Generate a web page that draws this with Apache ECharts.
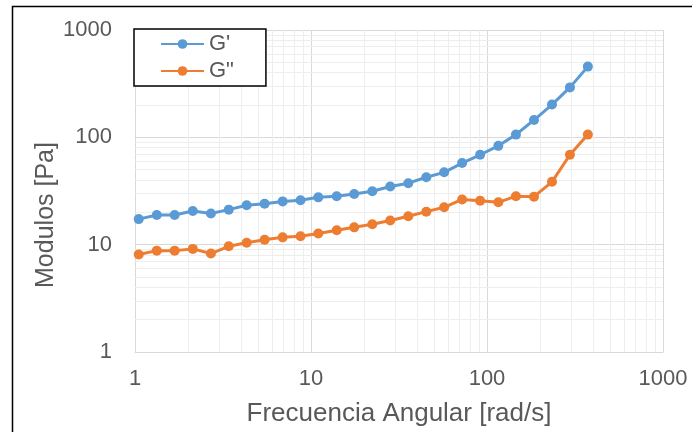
<!DOCTYPE html>
<html>
<head>
<meta charset="utf-8">
<script src="https://cdn.jsdelivr.net/npm/echarts@6/dist/echarts.min.js"></script>
<style>
  html, body { margin: 0; padding: 0; background: #fff; }
  #chart { width: 692px; height: 432px; }
</style>
</head>
<body>
<div id="chart"></div>
<script>
// Angular frequency sweep (rad/s)
var frequency = [1.05, 1.33, 1.68, 2.13, 2.70, 3.41, 4.31, 5.45, 6.90, 8.72,
                 11.0, 14.0, 17.6, 22.3, 28.2, 35.7, 45.2, 57.1, 72.2, 91.4,
                 116, 146, 185, 234, 296, 374];
// Storage modulus G' (Pa)
var storageModulus = [17.3, 18.9, 18.9, 20.6, 19.5, 21.2, 23.3, 24.1, 25.3, 25.9,
                      27.6, 28.3, 29.6, 31.5, 34.8, 37.4, 42.5, 47.2, 57.6, 68.8,
                      83.3, 106, 145, 202, 292, 456];
// Loss modulus G'' (Pa)
var lossModulus = [8.09, 8.80, 8.80, 9.13, 8.26, 9.66, 10.4, 11.1, 11.7, 12.0,
                   12.7, 13.6, 14.5, 15.5, 16.8, 18.4, 20.3, 22.3, 26.4, 25.7,
                   24.8, 28.3, 28.0, 38.5, 68.8, 106];
// Minor (intermediate) grid positions for both log axes
var minorSteps = [2, 3, 4, 5, 6, 7, 8, 9, 20, 30, 40, 50, 60, 70, 80, 90,
                  200, 300, 400, 500, 600, 700, 800, 900];
var seriesNames = ["G'", 'G"'];

var textColor = '#595959';
var labelFont = '"Liberation Sans", Arial, sans-serif';

function pairs(xs, ys) {
  return xs.map(function (x, i) { return [x, ys[i]]; });
}

var minorLines = minorSteps.map(function (v) { return { xAxis: v }; })
  .concat(minorSteps.map(function (v) { return { yAxis: v }; }));

var chart = echarts.init(document.getElementById('chart'), null, { renderer: 'canvas' });
chart.setOption({
  animation: false,
  backgroundColor: '#ffffff',
  grid: { left: 135, right: 29, top: 30, bottom: 77, containLabel: false },
  graphic: [{
    type: 'rect',
    z: 100,
    shape: { x: 12.5, y: 6.5, width: 720, height: 460 },
    style: { fill: null, stroke: '#000000', lineWidth: 1.5 }
  }],
  legend: {
    data: seriesNames,
    orient: 'vertical',
    left: 134,
    top: 29,
    padding: [4, 32, 4, 26],
    itemGap: 5,
    itemWidth: 43,
    itemHeight: 12,
    backgroundColor: '#ffffff',
    borderColor: '#000000',
    borderWidth: 1.5,
    borderRadius: 0,
    textStyle: { color: textColor, fontSize: 22, fontFamily: labelFont }
  },
  xAxis: {
    type: 'log',
    logBase: 10,
    min: 1,
    max: 1000,
    name: 'Frecuencia Angular [rad/s]',
    nameLocation: 'middle',
    nameGap: 49,
    nameMoveOverlap: false,
    nameTextStyle: { color: textColor, fontSize: 26, fontFamily: labelFont },
    axisLine: { show: true, lineStyle: { color: '#d9d9d9', width: 1 } },
    axisTick: { show: false },
    axisLabel: { color: textColor, fontSize: 22, fontFamily: labelFont, margin: 16,
                 formatter: function (v) { return String(Math.round(v)); } },
    splitLine: { show: true, lineStyle: { color: '#d9d9d9', width: 1 } }
  },
  yAxis: {
    type: 'log',
    logBase: 10,
    min: 1,
    max: 1000,
    name: 'Modulos [Pa]',
    nameLocation: 'middle',
    nameGap: 76,
    nameMoveOverlap: false,
    nameTextStyle: { color: textColor, fontSize: 25, fontFamily: labelFont,
                     padding: [0, 48, 0, 0] },
    axisLine: { show: true, lineStyle: { color: '#d9d9d9', width: 1 } },
    axisTick: { show: false },
    axisLabel: { color: textColor, fontSize: 22, fontFamily: labelFont, margin: 23,
                 formatter: function (v) { return String(Math.round(v)); } },
    splitLine: { show: true, lineStyle: { color: '#d9d9d9', width: 1 } }
  },
  series: [
    {
      name: 'minor-grid',
      type: 'line',
      data: [],
      z: 1,
      silent: true,
      markLine: {
        z: 1,
        silent: true,
        symbol: ['none', 'none'],
        label: { show: false },
        emphasis: { disabled: true },
        lineStyle: { color: '#eeeeee', width: 1, type: 'solid' },
        data: minorLines
      }
    },
    {
      name: seriesNames[0],
      type: 'line',
      z: 3,
      data: pairs(frequency, storageModulus),
      symbol: 'circle',
      symbolSize: 10,
      color: '#5b9bd5',
      lineStyle: { width: 3, color: '#5b9bd5' },
      itemStyle: { color: '#5b9bd5' }
    },
    {
      name: seriesNames[1],
      type: 'line',
      z: 3,
      data: pairs(frequency, lossModulus),
      symbol: 'circle',
      symbolSize: 10,
      color: '#ed7d31',
      lineStyle: { width: 3, color: '#ed7d31' },
      itemStyle: { color: '#ed7d31' }
    }
  ]
});
</script>
</body>
</html>
